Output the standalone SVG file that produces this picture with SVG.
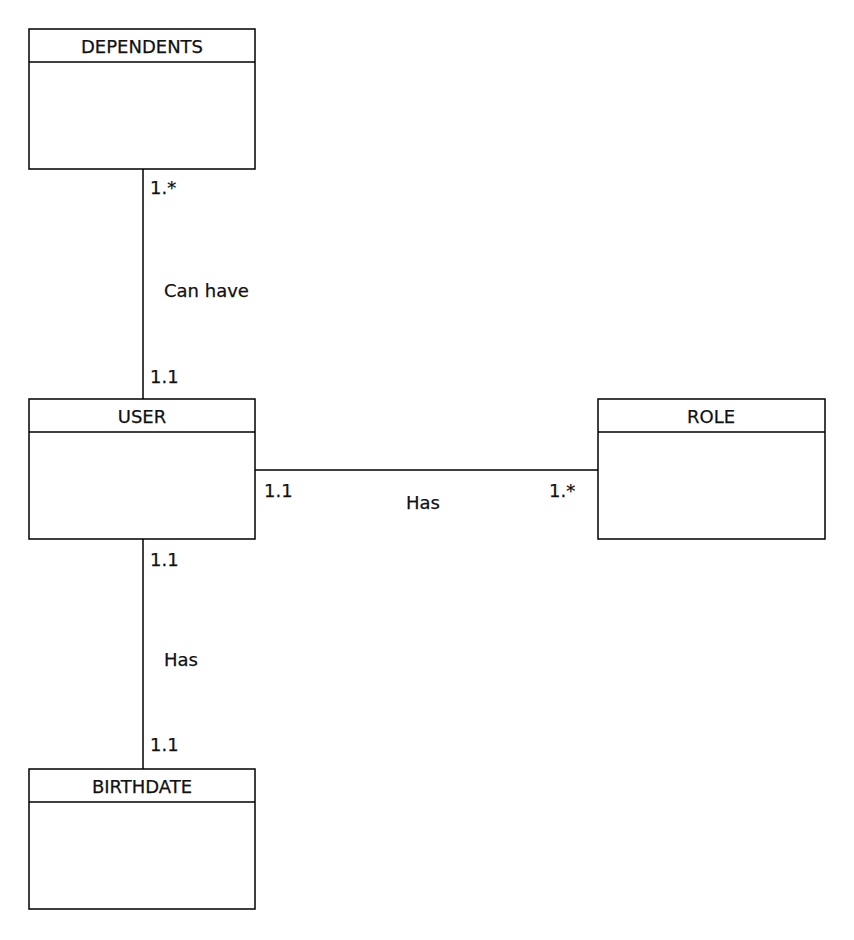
<svg xmlns="http://www.w3.org/2000/svg" width="854" height="940" viewBox="0 0 854 940">
<style>
.box{fill:#fff;stroke:#000;stroke-width:1.5}
.sep{stroke:#000;stroke-width:1.5}
.t{font-family:"DejaVu Sans","Open Sans",sans-serif;font-size:18px;fill:#111;stroke:#111;stroke-width:0.25}
.c{text-anchor:middle}
.edge{stroke:#000;stroke-width:1.5;fill:none}
</style>
<rect width="854" height="940" fill="#fff"/>
<g id="connectors">
<line class="edge" x1="143" y1="169" x2="143" y2="399"/>
<line class="edge" x1="255" y1="470" x2="598" y2="470"/>
<line class="edge" x1="143" y1="539" x2="143" y2="769"/>
<text class="t" x="150" y="194">1.*</text>
<text class="t" x="164" y="297">Can have</text>
<text class="t" x="150" y="383">1.1</text>
<text class="t" x="264" y="497">1.1</text>
<text class="t c" x="423" y="509">Has</text>
<text class="t" x="549" y="497">1.*</text>
<text class="t" x="150" y="566">1.1</text>
<text class="t" x="164" y="666">Has</text>
<text class="t" x="150" y="751">1.1</text>
</g>
<g id="dependents">
<rect class="box" x="29" y="29" width="226" height="140"/>
<line class="sep" x1="29" y1="62" x2="255" y2="62"/>
<text class="t c" x="142" y="53">DEPENDENTS</text>
</g>
<g id="user">
<rect class="box" x="29" y="399" width="226" height="140"/>
<line class="sep" x1="29" y1="432" x2="255" y2="432"/>
<text class="t c" x="142" y="423">USER</text>
</g>
<g id="role">
<rect class="box" x="598" y="399" width="227" height="140"/>
<line class="sep" x1="598" y1="432" x2="825" y2="432"/>
<text class="t c" x="711" y="423">ROLE</text>
</g>
<g id="birthdate">
<rect class="box" x="29" y="769" width="226" height="140"/>
<line class="sep" x1="29" y1="802" x2="255" y2="802"/>
<text class="t c" x="142" y="793">BIRTHDATE</text>
</g>
</svg>
